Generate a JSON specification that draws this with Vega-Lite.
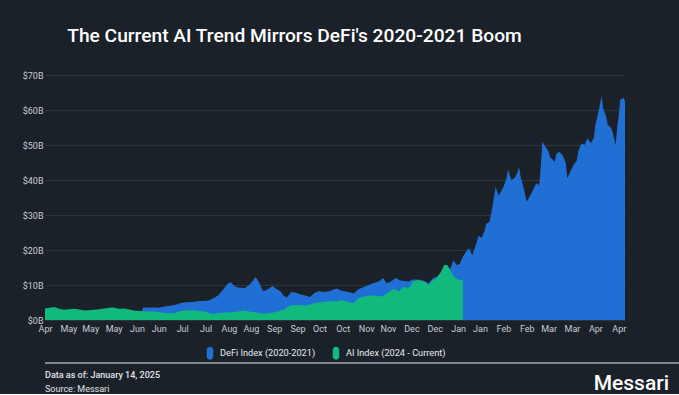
{
  "$schema": "https://vega.github.io/schema/vega-lite/v6.json",
  "background": "#1b2129",
  "padding": {"left": 22, "right": 11, "top": 26, "bottom": 0},
  "spacing": 2,
  "resolve": {"scale": {"color": "independent"}, "legend": {"color": "independent"}},
  "config": {
    "font": "Roboto",
    "view": {"stroke": null},
    "axis": {"domain": false, "ticks": false, "labelColor": "#c8cdd3", "labelFontSize": 9, "gridColor": "#2d343c", "title": null}
  },
  "title": {"text": "Messari", "orient": "bottom", "anchor": "end", "dx": -22, "fontSize": 21, "fontWeight": 500, "color": "#ffffff", "offset": -21},
  "datasets": {
    "defi": [
      {"date": "2020-04-17", "value": 2.9}, {"date": "2020-04-21", "value": 3.1}, {"date": "2020-04-25", "value": 3.2}, {"date": "2020-04-29", "value": 2.7},
      {"date": "2020-05-02", "value": 2.8}, {"date": "2020-05-06", "value": 2.9}, {"date": "2020-05-10", "value": 2.7}, {"date": "2020-05-14", "value": 2.5},
      {"date": "2020-05-18", "value": 2.6}, {"date": "2020-05-22", "value": 2.8}, {"date": "2020-05-26", "value": 3.0}, {"date": "2020-05-29", "value": 3.2},
      {"date": "2020-06-02", "value": 3.0}, {"date": "2020-06-06", "value": 3.0}, {"date": "2020-06-10", "value": 2.8}, {"date": "2020-06-14", "value": 2.5},
      {"date": "2020-06-18", "value": 2.4}, {"date": "2020-06-19", "value": 3.6}, {"date": "2020-06-23", "value": 3.6}, {"date": "2020-06-26", "value": 3.6},
      {"date": "2020-06-29", "value": 3.5}, {"date": "2020-07-02", "value": 3.8}, {"date": "2020-07-06", "value": 4.1}, {"date": "2020-07-09", "value": 4.3},
      {"date": "2020-07-12", "value": 4.7}, {"date": "2020-07-15", "value": 5.0}, {"date": "2020-07-18", "value": 5.1}, {"date": "2020-07-22", "value": 5.2},
      {"date": "2020-07-25", "value": 5.4}, {"date": "2020-07-28", "value": 5.4}, {"date": "2020-07-31", "value": 5.6}, {"date": "2020-08-03", "value": 6.2},
      {"date": "2020-08-06", "value": 7.0}, {"date": "2020-08-09", "value": 8.5}, {"date": "2020-08-12", "value": 10.3}, {"date": "2020-08-14", "value": 10.8},
      {"date": "2020-08-17", "value": 9.6}, {"date": "2020-08-19", "value": 9.3}, {"date": "2020-08-23", "value": 9.1}, {"date": "2020-08-26", "value": 10.0},
      {"date": "2020-08-28", "value": 11.0}, {"date": "2020-08-30", "value": 12.3}, {"date": "2020-09-01", "value": 11.0}, {"date": "2020-09-03", "value": 9.0},
      {"date": "2020-09-04", "value": 8.2}, {"date": "2020-09-07", "value": 8.8}, {"date": "2020-09-10", "value": 9.7}, {"date": "2020-09-12", "value": 9.0},
      {"date": "2020-09-15", "value": 8.2}, {"date": "2020-09-17", "value": 7.0}, {"date": "2020-09-19", "value": 6.4}, {"date": "2020-09-22", "value": 8.0},
      {"date": "2020-09-25", "value": 7.8}, {"date": "2020-09-28", "value": 7.3}, {"date": "2020-10-01", "value": 7.0}, {"date": "2020-10-04", "value": 6.6},
      {"date": "2020-10-07", "value": 7.8}, {"date": "2020-10-10", "value": 8.3}, {"date": "2020-10-12", "value": 8.0}, {"date": "2020-10-16", "value": 8.2},
      {"date": "2020-10-18", "value": 8.5}, {"date": "2020-10-21", "value": 9.0}, {"date": "2020-10-23", "value": 8.6}, {"date": "2020-10-25", "value": 8.3},
      {"date": "2020-10-28", "value": 8.1}, {"date": "2020-11-01", "value": 7.6}, {"date": "2020-11-04", "value": 8.8}, {"date": "2020-11-08", "value": 9.5},
      {"date": "2020-11-12", "value": 10.3}, {"date": "2020-11-17", "value": 11.0}, {"date": "2020-11-20", "value": 12.0}, {"date": "2020-11-22", "value": 10.5},
      {"date": "2020-11-25", "value": 11.0}, {"date": "2020-11-28", "value": 12.0}, {"date": "2020-12-01", "value": 11.3}, {"date": "2020-12-06", "value": 11.0},
      {"date": "2020-12-09", "value": 11.6}, {"date": "2020-12-12", "value": 11.6}, {"date": "2020-12-16", "value": 11.2}, {"date": "2020-12-19", "value": 10.5},
      {"date": "2020-12-22", "value": 12.0}, {"date": "2020-12-25", "value": 12.4}, {"date": "2020-12-28", "value": 13.3}, {"date": "2020-12-30", "value": 14.5},
      {"date": "2021-01-02", "value": 14.8}, {"date": "2021-01-04", "value": 17.1}, {"date": "2021-01-06", "value": 15.7}, {"date": "2021-01-08", "value": 16.0},
      {"date": "2021-01-10", "value": 18.1}, {"date": "2021-01-12", "value": 19.5}, {"date": "2021-01-14", "value": 20.5}, {"date": "2021-01-16", "value": 18.5},
      {"date": "2021-01-18", "value": 21.0}, {"date": "2021-01-20", "value": 24.0}, {"date": "2021-01-22", "value": 23.5}, {"date": "2021-01-24", "value": 25.5},
      {"date": "2021-01-25", "value": 27.5}, {"date": "2021-01-27", "value": 28.0}, {"date": "2021-01-28", "value": 30.0}, {"date": "2021-01-29", "value": 32.5},
      {"date": "2021-01-31", "value": 38.0}, {"date": "2021-02-02", "value": 35.5}, {"date": "2021-02-05", "value": 38.0}, {"date": "2021-02-07", "value": 40.5},
      {"date": "2021-02-08", "value": 43.0}, {"date": "2021-02-10", "value": 40.0}, {"date": "2021-02-12", "value": 40.5}, {"date": "2021-02-14", "value": 42.0},
      {"date": "2021-02-15", "value": 43.8}, {"date": "2021-02-16", "value": 41.0}, {"date": "2021-02-18", "value": 37.7}, {"date": "2021-02-20", "value": 33.8},
      {"date": "2021-02-23", "value": 36.2}, {"date": "2021-02-26", "value": 39.0}, {"date": "2021-02-28", "value": 38.6}, {"date": "2021-03-01", "value": 44.0},
      {"date": "2021-03-02", "value": 50.9}, {"date": "2021-03-04", "value": 49.5}, {"date": "2021-03-06", "value": 48.1}, {"date": "2021-03-07", "value": 46.5},
      {"date": "2021-03-10", "value": 45.2}, {"date": "2021-03-11", "value": 47.5}, {"date": "2021-03-13", "value": 48.1}, {"date": "2021-03-15", "value": 47.0},
      {"date": "2021-03-17", "value": 45.0}, {"date": "2021-03-18", "value": 40.5}, {"date": "2021-03-20", "value": 42.5}, {"date": "2021-03-22", "value": 44.3},
      {"date": "2021-03-24", "value": 45.5}, {"date": "2021-03-25", "value": 48.1}, {"date": "2021-03-27", "value": 50.5}, {"date": "2021-03-29", "value": 50.0},
      {"date": "2021-03-31", "value": 51.9}, {"date": "2021-04-02", "value": 50.5}, {"date": "2021-04-04", "value": 52.0}, {"date": "2021-04-05", "value": 55.7},
      {"date": "2021-04-07", "value": 59.5}, {"date": "2021-04-09", "value": 64.0}, {"date": "2021-04-10", "value": 60.5}, {"date": "2021-04-12", "value": 58.0},
      {"date": "2021-04-13", "value": 55.7}, {"date": "2021-04-15", "value": 55.0}, {"date": "2021-04-16", "value": 53.8}, {"date": "2021-04-18", "value": 50.0},
      {"date": "2021-04-19", "value": 55.0}, {"date": "2021-04-20", "value": 58.6}, {"date": "2021-04-21", "value": 62.9}, {"date": "2021-04-23", "value": 63.5},
      {"date": "2021-04-24", "value": 62.5}
    ],
    "ai": [
      {"date": "2020-04-17", "value": 3.3}, {"date": "2020-04-20", "value": 3.5}, {"date": "2020-04-23", "value": 3.7}, {"date": "2020-04-26", "value": 3.2},
      {"date": "2020-04-29", "value": 2.9}, {"date": "2020-05-02", "value": 3.1}, {"date": "2020-05-06", "value": 3.2}, {"date": "2020-05-09", "value": 3.0},
      {"date": "2020-05-12", "value": 2.7}, {"date": "2020-05-15", "value": 2.8}, {"date": "2020-05-18", "value": 2.9}, {"date": "2020-05-22", "value": 3.1},
      {"date": "2020-05-25", "value": 3.3}, {"date": "2020-05-28", "value": 3.5}, {"date": "2020-05-31", "value": 3.6}, {"date": "2020-06-03", "value": 3.2},
      {"date": "2020-06-07", "value": 3.3}, {"date": "2020-06-10", "value": 3.0}, {"date": "2020-06-13", "value": 2.7}, {"date": "2020-06-16", "value": 2.6},
      {"date": "2020-06-19", "value": 2.5}, {"date": "2020-06-23", "value": 2.4}, {"date": "2020-06-26", "value": 2.4}, {"date": "2020-06-29", "value": 2.2},
      {"date": "2020-07-02", "value": 2.1}, {"date": "2020-07-06", "value": 1.9}, {"date": "2020-07-09", "value": 2.0}, {"date": "2020-07-12", "value": 2.4},
      {"date": "2020-07-15", "value": 2.7}, {"date": "2020-07-18", "value": 2.8}, {"date": "2020-07-22", "value": 2.7}, {"date": "2020-07-25", "value": 2.6},
      {"date": "2020-07-28", "value": 2.5}, {"date": "2020-07-31", "value": 2.0}, {"date": "2020-08-03", "value": 1.7}, {"date": "2020-08-06", "value": 2.0},
      {"date": "2020-08-09", "value": 2.1}, {"date": "2020-08-12", "value": 2.2}, {"date": "2020-08-16", "value": 2.2}, {"date": "2020-08-19", "value": 2.4},
      {"date": "2020-08-22", "value": 2.7}, {"date": "2020-08-25", "value": 2.5}, {"date": "2020-08-28", "value": 2.3}, {"date": "2020-09-01", "value": 2.1},
      {"date": "2020-09-04", "value": 1.8}, {"date": "2020-09-07", "value": 1.9}, {"date": "2020-09-10", "value": 2.1}, {"date": "2020-09-13", "value": 2.4},
      {"date": "2020-09-17", "value": 2.9}, {"date": "2020-09-19", "value": 3.6}, {"date": "2020-09-22", "value": 4.2}, {"date": "2020-09-25", "value": 4.3},
      {"date": "2020-09-28", "value": 4.3}, {"date": "2020-10-01", "value": 4.1}, {"date": "2020-10-05", "value": 4.6}, {"date": "2020-10-08", "value": 5.0},
      {"date": "2020-10-11", "value": 5.1}, {"date": "2020-10-14", "value": 5.2}, {"date": "2020-10-17", "value": 5.4}, {"date": "2020-10-21", "value": 5.3},
      {"date": "2020-10-24", "value": 5.7}, {"date": "2020-10-28", "value": 5.2}, {"date": "2020-11-01", "value": 4.8}, {"date": "2020-11-04", "value": 6.2},
      {"date": "2020-11-08", "value": 6.7}, {"date": "2020-11-12", "value": 7.1}, {"date": "2020-11-17", "value": 6.7}, {"date": "2020-11-20", "value": 6.9},
      {"date": "2020-11-25", "value": 8.4}, {"date": "2020-11-27", "value": 9.0}, {"date": "2020-11-30", "value": 8.1}, {"date": "2020-12-03", "value": 9.5},
      {"date": "2020-12-06", "value": 9.0}, {"date": "2020-12-09", "value": 11.0}, {"date": "2020-12-12", "value": 11.4}, {"date": "2020-12-16", "value": 11.0},
      {"date": "2020-12-19", "value": 10.0}, {"date": "2020-12-21", "value": 11.0}, {"date": "2020-12-24", "value": 12.0}, {"date": "2020-12-27", "value": 13.8},
      {"date": "2020-12-29", "value": 15.7}, {"date": "2020-12-31", "value": 15.7}, {"date": "2021-01-02", "value": 14.3}, {"date": "2021-01-04", "value": 12.4},
      {"date": "2021-01-07", "value": 11.6}, {"date": "2021-01-09", "value": 11.4}, {"date": "2021-01-10", "value": 11.5}
    ]
  },
  "vconcat": [
    {
      "width": 580,
      "height": 245,
      "title": {"text": "The Current AI Trend Mirrors DeFi's 2020-2021 Boom", "orient": "top", "anchor": "start", "dx": 45, "fontSize": 19.2, "fontWeight": 500, "color": "#ffffff", "offset": 25},
      "encoding": {
        "x": {
          "field": "date", "type": "temporal",
          "scale": {"type": "utc", "domain": [{"year": 2020, "month": "Apr", "date": 17, "utc": true}, {"year": 2021, "month": "Apr", "date": 24, "utc": true}]},
          "axis": {
            "format": "%b", "grid": false, "labelFlush": false, "labelOverlap": false, "labelBound": false, "labelPadding": 4,
            "values": [
              {"year": 2020, "month": "Apr", "date": 17, "utc": true}, {"year": 2020, "month": "May", "date": 2, "utc": true},
              {"year": 2020, "month": "May", "date": 16, "utc": true}, {"year": 2020, "month": "May", "date": 31, "utc": true},
              {"year": 2020, "month": "Jun", "date": 15, "utc": true}, {"year": 2020, "month": "Jun", "date": 29, "utc": true},
              {"year": 2020, "month": "Jul", "date": 14, "utc": true}, {"year": 2020, "month": "Jul", "date": 29, "utc": true},
              {"year": 2020, "month": "Aug", "date": 13, "utc": true}, {"year": 2020, "month": "Aug", "date": 27, "utc": true},
              {"year": 2020, "month": "Sep", "date": 11, "utc": true}, {"year": 2020, "month": "Sep", "date": 26, "utc": true},
              {"year": 2020, "month": "Oct", "date": 10, "utc": true}, {"year": 2020, "month": "Oct", "date": 25, "utc": true},
              {"year": 2020, "month": "Nov", "date": 9, "utc": true}, {"year": 2020, "month": "Nov", "date": 23, "utc": true},
              {"year": 2020, "month": "Dec", "date": 8, "utc": true}, {"year": 2020, "month": "Dec", "date": 23, "utc": true},
              {"year": 2021, "month": "Jan", "date": 7, "utc": true}, {"year": 2021, "month": "Jan", "date": 21, "utc": true},
              {"year": 2021, "month": "Feb", "date": 5, "utc": true}, {"year": 2021, "month": "Feb", "date": 20, "utc": true},
              {"year": 2021, "month": "Mar", "date": 6, "utc": true}, {"year": 2021, "month": "Mar", "date": 21, "utc": true},
              {"year": 2021, "month": "Apr", "date": 5, "utc": true}, {"year": 2021, "month": "Apr", "date": 20, "utc": true}
            ]
          }
        },
        "y": {
          "field": "value", "type": "quantitative",
          "scale": {"domain": [0, 70]},
          "axis": {"values": [0, 10, 20, 30, 40, 50, 60, 70], "labelExpr": "'$' + datum.value + 'B'", "grid": true, "labelPadding": 2}
        }
      },
      "layer": [
        {
          "data": {"name": "defi"},
          "mark": {"type": "area", "interpolate": "linear"},
          "encoding": {
            "color": {
              "datum": "DeFi Index (2020-2021)",
              "scale": {"domain": ["DeFi Index (2020-2021)", "AI Index (2024 - Current)"], "range": ["#1f6fd5", "#11b97c"]},
              "legend": {
                "orient": "none", "legendX": 158, "legendY": 271, "title": null, "direction": "horizontal",
                "symbolType": "M-0.5,-0.5A0.5,0.5 0 0 1 0.5,-0.5L0.5,0.5A0.5,0.5 0 0 1 -0.5,0.5Z",
                "symbolSize": 170, "symbolStrokeWidth": 0, "symbolOpacity": 1,
                "labelFontSize": 9.2, "labelColor": "#e9ecef", "columnPadding": 13, "labelOffset": 3
              }
            }
          }
        },
        {
          "data": {"name": "ai"},
          "mark": {"type": "area", "interpolate": "linear"},
          "encoding": {"color": {"datum": "AI Index (2024 - Current)"}}
        }
      ]
    },
    {
      "width": 646,
      "height": 2,
      "view": {"fill": "#80868e", "stroke": null},
      "data": {"values": []},
      "mark": {"type": "point", "opacity": 0},
      "encoding": {},
      "title": {"text": "Data as of: January 14, 2025", "subtitle": "Source: Messari", "orient": "bottom", "anchor": "start", "fontSize": 9, "subtitleFontSize": 9, "fontWeight": 500, "color": "#e2e5e8", "subtitleColor": "#e2e5e8", "subtitlePadding": 5, "offset": 7}
    }
  ]
}
